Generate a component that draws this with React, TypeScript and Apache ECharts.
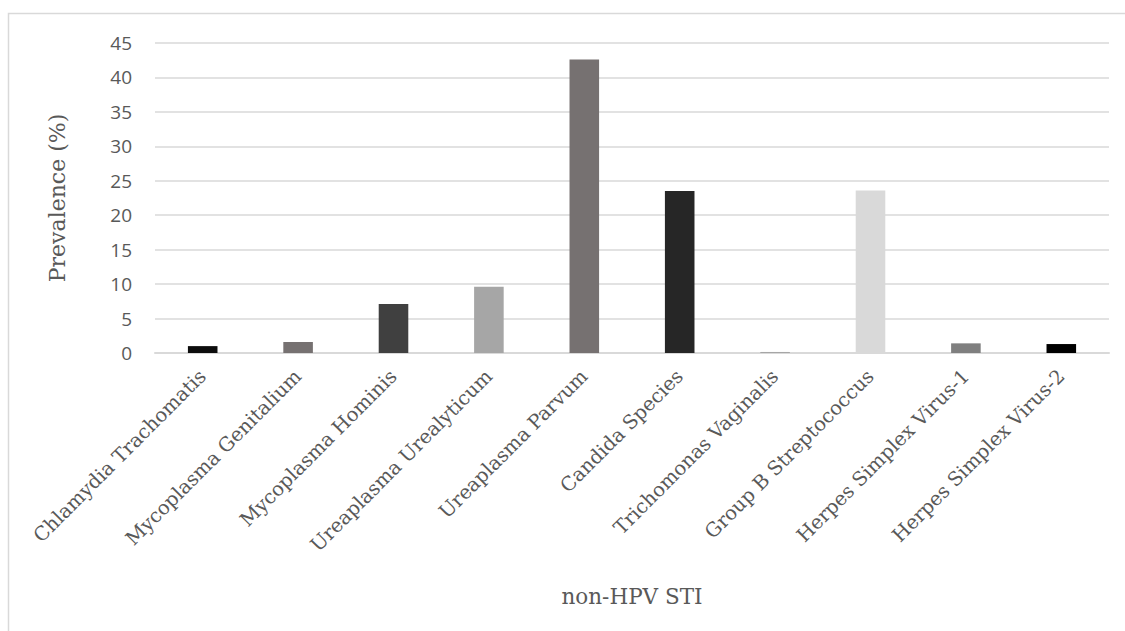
import React, { useEffect, useRef } from "react";
import * as echarts from "echarts";

const categories = [
  "Chlamydia Trachomatis",
  "Mycoplasma Genitalium",
  "Mycoplasma Hominis",
  "Ureaplasma Urealyticum",
  "Ureaplasma Parvum",
  "Candida Species",
  "Trichomonas Vaginalis",
  "Group B Streptococcus",
  "Herpes Simplex Virus-1",
  "Herpes Simplex Virus-2",
];
const prevalence = [1.0, 1.6, 7.1, 9.6, 42.6, 23.5, 0.15, 23.6, 1.4, 1.3];
const barColors = [
  "#0d0d0d",
  "#767171",
  "#404040",
  "#a6a6a6",
  "#767171",
  "#262626",
  "#a6a6a6",
  "#d9d9d9",
  "#7f7f7f",
  "#000000",
];

export default function App() {
  const ref = useRef<HTMLDivElement>(null);
  useEffect(() => {
    document.body.style.margin = "0";
    const chart = echarts.init(ref.current!, undefined, { renderer: "svg" });
    chart.setOption({
      animation: false,
      backgroundColor: "#ffffff",
      graphic: [
        {
          type: "rect",
          shape: { x: 8.5, y: 13.5, width: 1300, height: 800 },
          style: { fill: "none", stroke: "#d9d9d9", lineWidth: 1.5 },
          silent: true,
        },
      ],
      grid: { left: 155, right: 16, top: 43, bottom: 278, containLabel: false },
      xAxis: {
        type: "category",
        data: categories,
        name: "non-HPV STI",
        nameLocation: "middle",
        nameGap: 232,
        nameTextStyle: { fontFamily: "DejaVu Serif", fontSize: 21.5, color: "#595959" },
        axisLine: { show: true, lineStyle: { color: "#d9d9d9", width: 2 } },
        axisTick: { show: false },
        axisLabel: {
          rotate: 45,
          interval: 0,
          margin: 20,
          fontFamily: "DejaVu Serif",
          fontSize: 19.5,
          color: "#595959",
        },
      },
      yAxis: {
        type: "value",
        min: 0,
        max: 45,
        interval: 5,
        name: "Prevalence (%)",
        nameLocation: "middle",
        nameGap: 87,
        nameTextStyle: { fontFamily: "DejaVu Serif", fontSize: 22, color: "#595959" },
        axisLine: { show: false },
        axisTick: { show: false },
        axisLabel: {
          margin: 23,
          fontFamily: "Open Sans",
          fontSize: 19,
          color: "#595959",
        },
        splitLine: { lineStyle: { color: "#d9d9d9", width: 1.5 } },
      },
      series: [
        {
          type: "bar",
          data: prevalence.map((v, i) => ({ value: v, itemStyle: { color: barColors[i] } })),
          barWidth: "31%",
        },
      ],
    });
    return () => chart.dispose();
  }, []);
  return <div ref={ref} style={{ width: 1125, height: 631 }} />;
}
